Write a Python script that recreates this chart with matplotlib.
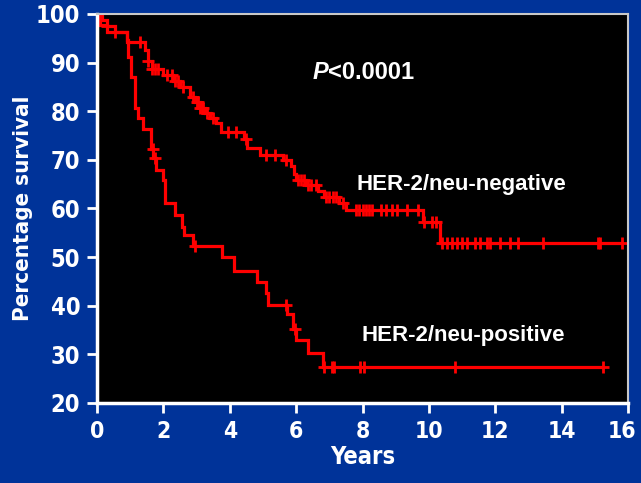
import numpy as np
import matplotlib
matplotlib.use("Agg")
import matplotlib.pyplot as plt
import matplotlib.transforms as mtransforms
from matplotlib import font_manager

# ---- data ----
neg_times = [0.15, 0.3, 0.55, 0.9, 1.45, 1.55, 1.65, 2.0, 2.3, 2.5, 2.8, 2.95, 3.1, 3.25, 3.4,
             3.6, 3.75, 4.43, 4.52, 4.9, 5.6, 5.85, 5.95, 6.0, 6.3, 6.65, 6.85, 7.3, 7.5, 9.82, 10.35]
neg_surv = [98.8, 97.6, 96.3, 94.3, 92.5, 90.3, 88.6, 87.4, 86.2, 85.0, 83.0, 81.8, 80.6, 79.6, 78.6,
            77.6, 75.8, 74.2, 72.4, 71.0, 70.0, 68.8, 67.0, 65.8, 64.8, 63.6, 62.4, 61.2, 59.6, 57.3, 52.9]
neg_cens = [0.3, 0.55, 1.3, 1.55, 1.65, 1.75, 1.85, 2.1, 2.25, 2.35, 2.45, 2.6, 2.9, 3.0, 3.05,
            3.1, 3.15, 3.2, 3.3, 3.5, 3.95, 4.2, 4.5, 5.1, 5.35, 5.7, 6.05, 6.15, 6.25, 6.35,
            6.45, 6.6, 6.9, 7.0, 7.1, 7.2, 7.4, 7.8, 7.9, 8.0, 8.1, 8.2, 8.3, 8.55, 8.7, 8.9,
            9.05, 9.35, 9.67, 9.85, 10.1, 10.2, 10.39, 10.54, 10.69, 10.84, 10.99, 11.14,
            11.39, 11.54, 11.75, 11.84, 12.14, 12.44, 12.68, 13.43, 15.09, 15.15, 15.81]
neg_end = 15.81

pos_times = [0.1, 0.3, 0.9, 0.93, 1.02, 1.14, 1.23, 1.39, 1.63, 1.70, 1.78, 1.99, 2.05, 2.35,
             2.55, 2.62, 2.89, 3.77, 4.13, 4.82, 5.09, 5.15, 5.72, 5.90, 5.99, 6.36, 6.81]
pos_surv = [97.7, 96.3, 94.6, 91.2, 87.0, 80.7, 78.6, 76.3, 72.2, 70.4, 67.9, 65.8, 61.1, 58.7,
            56.2, 54.6, 52.3, 50.0, 47.1, 44.9, 42.6, 40.2, 38.3, 35.2, 33.0, 30.3, 27.4]
pos_cens = [1.68, 1.75, 2.95, 5.70, 5.96, 6.84, 7.08, 7.14, 7.92, 8.04, 10.78, 15.24]
pos_end = 15.24

x_ticks = [0, 2, 4, 6, 8, 10, 12, 14, 16]
y_ticks = [20, 30, 40, 50, 60, 70, 80, 90, 100]

BLUE = "#003399"
RED = "#ff0000"

names = {f.name for f in font_manager.fontManager.ttflist}
if "Liberation Sans Narrow" in names:
    COND = dict(family="Liberation Sans Narrow")
else:
    COND = dict(family="DejaVu Sans", stretch="condensed")

fig = plt.figure(figsize=(6.41, 4.83), dpi=100, facecolor=BLUE)
ax = fig.add_axes([97 / 641, 1 - 403 / 483, (628 - 97) / 641, (403 - 14) / 483])
ax.set_facecolor("black")


def km_curve(times, surv, end):
    xs = np.concatenate([[0.0], times, [end]])
    ys = np.concatenate([[100.0], surv, [surv[-1]]])
    return xs, ys


def surv_at(t, times, surv):
    idx = np.searchsorted(times, t, side="right")
    full = np.concatenate([[100.0], surv])
    return full[idx]


for times, surv, cens, end in [(neg_times, neg_surv, neg_cens, neg_end),
                               (pos_times, pos_surv, pos_cens, pos_end)]:
    xs, ys = km_curve(np.array(times), np.array(surv), end)
    ax.step(xs, ys, where="post", color=RED, lw=2.3, solid_joinstyle="miter")
    cy = [surv_at(t, np.array(times), np.array(surv)) for t in cens]
    ax.plot(cens, cy, linestyle="none", marker="+", color=RED, ms=9, mew=2)

ax.set_xlim(0, 16)
ax.set_ylim(20, 100)
ax.set_xticks(x_ticks)
ax.set_yticks(y_ticks)
ax.tick_params(colors="white", width=2, length=7, direction="out", pad=5)
for lab in ax.get_yticklabels():
    lab.set(**COND)
    lab.set_fontweight("bold")
    lab.set_fontsize(17)
    lab.set_color("white")
xlabs = ax.get_xticklabels()
for lab in xlabs:
    lab.set(**COND)
    lab.set_fontweight("bold")
    lab.set_fontsize(16.5)
    lab.set_color("white")
xlabs[-1].set_transform(xlabs[-1].get_transform()
                        + mtransforms.ScaledTranslation(-4 / 72, 0, fig.dpi_scale_trans))

for side in ["left", "bottom"]:
    ax.spines[side].set_color("white")
    ax.spines[side].set_linewidth(2.5)
for side in ["top", "right"]:
    ax.spines[side].set_color("#c8c8c8")
    ax.spines[side].set_linewidth(1.5)

ax.set_xlabel("Years", color="white", fontsize=17, fontweight="bold", labelpad=2, **COND)
ax.set_ylabel("Percentage survival", color="white", fontsize=16, fontweight="bold",
              labelpad=2, **COND)

tp = ax.text(6.5, 88.0, "P", color="white", fontsize=17, fontweight="bold", style="italic",
             family="Liberation Sans", va="center", ha="left")
ax.annotate("<0.0001", xy=(1.0, 0.5), xycoords=tp, color="white", fontsize=17,
            fontweight="bold", family="Liberation Sans", va="center", ha="left")
ax.text(7.83, 65.0, "HER-2/neu-negative", color="white", fontsize=16, fontweight="bold",
        family="Liberation Sans", va="center", ha="left")
ax.text(7.98, 33.8, "HER-2/neu-positive", color="white", fontsize=16, fontweight="bold",
        family="Liberation Sans", va="center", ha="left")

fig.savefig("out.png", dpi=100, facecolor=BLUE)
